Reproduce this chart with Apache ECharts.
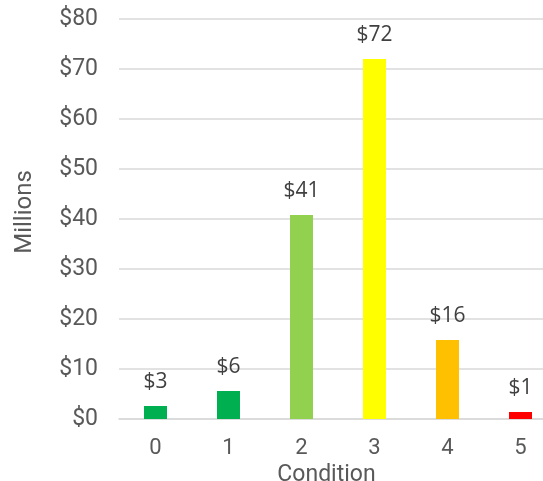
<!DOCTYPE html>
<html>
<head>
<meta charset="utf-8">
<script src="https://cdn.jsdelivr.net/npm/echarts@6/dist/echarts.min.js"></script>
<style>
  html, body { margin: 0; padding: 0; background: #fff; }
  #chart { width: 543px; height: 481px; }
</style>
</head>
<body>
<div id="chart"></div>
<script>
// condition ratings and dollar values (millions)
const categories = ['0', '1', '2', '3', '4', '5']
const values = [2.6, 5.6, 40.8, 72.0, 15.8, 1.4]
const barColors = ['#00B050', '#00B050', '#92D050', '#FFFF00', '#FFC000', '#FF0000']

let chart = echarts.init(document.getElementById('chart'))

let option = {
    animation: false,
    grid: { left: 119, top: 19, width: 438, height: 400, outerBoundsMode: 'none', containLabel: false },
    xAxis: {
        type: 'category',
        data: categories,
        name: 'Condition',
        nameLocation: 'middle',
        nameGap: 37,
        nameTextStyle: { fontFamily: 'Roboto', fontSize: 23, color: '#595959', padding: [0, 23, 0, 0] },
        axisLine: { lineStyle: { color: '#D9D9D9', width: 1.5 } },
        axisTick: { show: false },
        axisLabel: { fontFamily: 'Roboto', fontSize: 22, color: '#595959', margin: 18 }
    },
    yAxis: {
        type: 'value',
        min: 0,
        max: 80,
        interval: 10,
        name: 'Millions',
        nameLocation: 'middle',
        nameGap: 82,
        nameTextStyle: { fontFamily: 'Roboto', fontSize: 24, color: '#595959', padding: [0, 0, 0, 14] },
        axisLine: { show: false },
        axisTick: { show: false },
        splitLine: { lineStyle: { color: '#D9D9D9', width: 1.5 } },
        axisLabel: {
            fontFamily: 'Roboto', fontSize: 23, color: '#595959', margin: 21,
            formatter: v => '$' + v
        }
    },
    series: [{
        type: 'bar',
        barWidth: 23,
        data: values.map((v, i) => ({ value: v, itemStyle: { color: barColors[i] } })),
        label: {
            show: true,
            position: 'top',
            distance: 13,
            fontFamily: 'Open Sans',
            fontSize: 21,
            color: '#404040',
            formatter: p => '$' + Math.round(p.value)
        }
    }]
}
chart.setOption(option)
</script>
</body>
</html>
